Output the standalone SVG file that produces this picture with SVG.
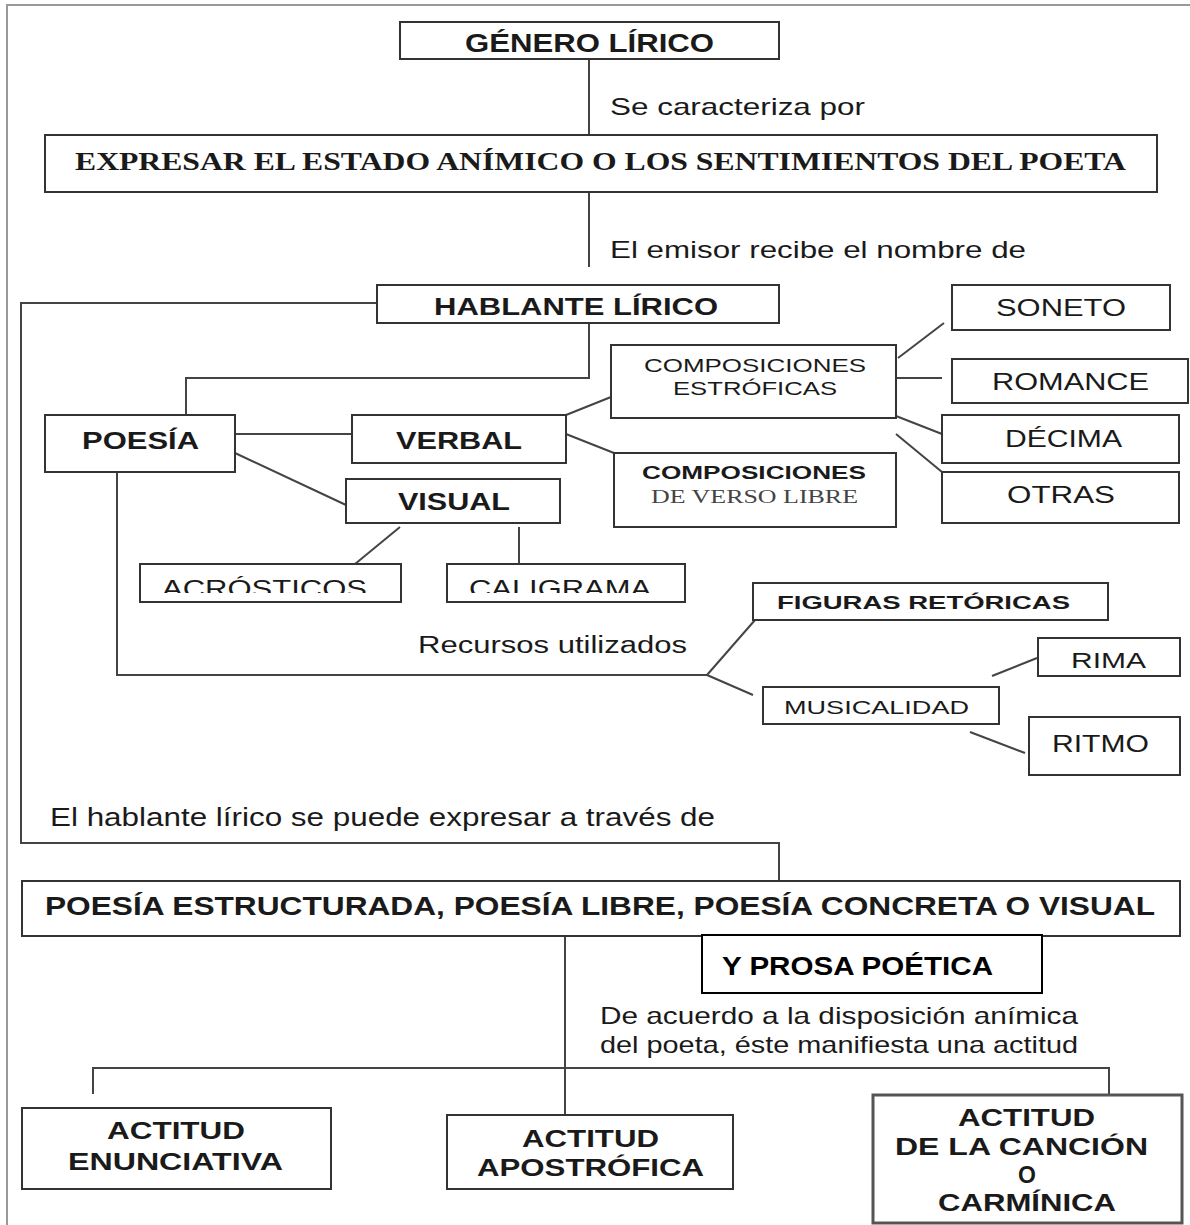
<svg xmlns="http://www.w3.org/2000/svg" width="1190" height="1225" viewBox="0 0 1190 1225">
<style>
.box{fill:#fff;stroke:#333;stroke-width:2}
.ln{fill:none;stroke:#444;stroke-width:2}
.frame{fill:none;stroke:#999;stroke-width:2}
.t{font-family:"Liberation Sans",Arial,sans-serif;fill:#1a1a1a}
.b{font-weight:bold}
.s{font-family:"Liberation Serif","Times New Roman",serif;fill:#1a1a1a}
</style>
<defs>
<clipPath id="cut"><rect x="0" y="540" width="1190" height="53"/></clipPath>
</defs>
<rect width="1190" height="1225" fill="#fff"/>
<path class="frame" d="M7,1225 V5 H1190"/>

<g id="connectors">
<line class="ln" x1="589" y1="60" x2="589" y2="135"/>
<line class="ln" x1="589" y1="192" x2="589" y2="267"/>
<polyline class="ln" points="377,303 21,303 21,843 779,843 779,881"/>
<polyline class="ln" points="589,323 589,378 186,378 186,415"/>
<line class="ln" x1="235" y1="434" x2="352" y2="434"/>
<line class="ln" x1="235" y1="453" x2="346" y2="505"/>
<line class="ln" x1="566" y1="415" x2="611" y2="397"/>
<line class="ln" x1="566" y1="434" x2="614" y2="453"/>
<line class="ln" x1="898" y1="358" x2="944" y2="323"/>
<line class="ln" x1="896" y1="378" x2="942" y2="378"/>
<line class="ln" x1="896" y1="416" x2="942" y2="434"/>
<line class="ln" x1="896" y1="434" x2="942" y2="472"/>
<line class="ln" x1="400" y1="527" x2="355" y2="564"/>
<line class="ln" x1="519" y1="527" x2="519" y2="564"/>
<polyline class="ln" points="117,472 117,675 707,675"/>
<line class="ln" x1="707" y1="675" x2="755" y2="620"/>
<line class="ln" x1="707" y1="675" x2="753" y2="695"/>
<line class="ln" x1="992" y1="676" x2="1037" y2="658"/>
<line class="ln" x1="970" y1="732" x2="1025" y2="753"/>
<line class="ln" x1="565" y1="936" x2="565" y2="1115"/>
<polyline class="ln" points="93,1094 93,1068 1109,1068 1109,1095"/>
</g>

<g id="labels">
<text class="t" x="610" y="115" font-size="24" textLength="255" lengthAdjust="spacingAndGlyphs">Se caracteriza por</text>
<text class="t" x="610" y="258" font-size="24" textLength="416" lengthAdjust="spacingAndGlyphs">El emisor recibe el nombre de</text>
<text class="t" x="418" y="653" font-size="23" textLength="269" lengthAdjust="spacingAndGlyphs">Recursos utilizados</text>
<text class="t" x="50" y="826" font-size="25" textLength="665" lengthAdjust="spacingAndGlyphs">El hablante lírico se puede expresar a través de</text>
<text class="t" x="600" y="1024" font-size="24" textLength="478" lengthAdjust="spacingAndGlyphs">De acuerdo a la disposición anímica</text>
<text class="t" x="600" y="1053" font-size="24" textLength="478" lengthAdjust="spacingAndGlyphs">del poeta, éste manifiesta una actitud</text>
</g>

<g id="genero">
<rect class="box" x="400" y="22" width="379" height="37"/>
<text class="t b" x="465" y="52" font-size="25" textLength="249" lengthAdjust="spacingAndGlyphs">GÉNERO LÍRICO</text>
</g>
<g id="expresar">
<rect class="box" x="45" y="135" width="1112" height="57"/>
<text class="s b" x="75" y="170" font-size="25" textLength="1051" lengthAdjust="spacingAndGlyphs">EXPRESAR EL ESTADO ANÍMICO O LOS SENTIMIENTOS DEL POETA</text>
</g>
<g id="hablante">
<rect class="box" x="377" y="285" width="402" height="38"/>
<text class="t b" x="434" y="315" font-size="24" textLength="284" lengthAdjust="spacingAndGlyphs">HABLANTE LÍRICO</text>
</g>
<g id="poesia">
<rect class="box" x="45" y="415" width="190" height="57"/>
<text class="t b" x="82" y="449" font-size="24" textLength="117" lengthAdjust="spacingAndGlyphs">POESÍA</text>
</g>
<g id="verbal">
<rect class="box" x="352" y="415" width="214" height="48"/>
<text class="t b" x="396" y="449" font-size="24" textLength="126" lengthAdjust="spacingAndGlyphs">VERBAL</text>
</g>
<g id="visual">
<rect class="box" x="346" y="479" width="214" height="44"/>
<text class="t b" x="398" y="510" font-size="24" textLength="112" lengthAdjust="spacingAndGlyphs">VISUAL</text>
</g>
<g id="comp-estroficas">
<rect class="box" x="611" y="345" width="285" height="73"/>
<text class="t" x="644" y="372" font-size="19" textLength="222" lengthAdjust="spacingAndGlyphs">COMPOSICIONES</text>
<text class="t" x="673" y="395" font-size="19" textLength="164" lengthAdjust="spacingAndGlyphs">ESTRÓFICAS</text>
</g>
<g id="comp-libre">
<rect class="box" x="614" y="453" width="282" height="74"/>
<text class="t b" x="642" y="479" font-size="19" textLength="224" lengthAdjust="spacingAndGlyphs">COMPOSICIONES</text>
<text class="s" x="651" y="503" font-size="19" style="fill:#444" textLength="207" lengthAdjust="spacingAndGlyphs">DE VERSO LIBRE</text>
</g>
<g id="soneto">
<rect class="box" x="952" y="285" width="218" height="45"/>
<text class="t" x="996" y="316" font-size="24" textLength="130" lengthAdjust="spacingAndGlyphs">SONETO</text>
</g>
<g id="romance">
<rect class="box" x="952" y="359" width="236" height="44"/>
<text class="t" x="992" y="390" font-size="24" textLength="157" lengthAdjust="spacingAndGlyphs">ROMANCE</text>
</g>
<g id="decima">
<rect class="box" x="942" y="415" width="237" height="48"/>
<text class="t" x="1005" y="447" font-size="24" textLength="117" lengthAdjust="spacingAndGlyphs">DÉCIMA</text>
</g>
<g id="otras">
<rect class="box" x="942" y="472" width="237" height="51"/>
<text class="t" x="1007" y="503" font-size="24" textLength="108" lengthAdjust="spacingAndGlyphs">OTRAS</text>
</g>
<g id="acrosticos">
<rect class="box" x="140" y="564" width="261" height="38"/>
<text class="t" x="162" y="597" font-size="24" clip-path="url(#cut)" textLength="205" lengthAdjust="spacingAndGlyphs">ACRÓSTICOS</text>
</g>
<g id="caligrama">
<rect class="box" x="447" y="564" width="238" height="38"/>
<text class="t" x="469" y="597" font-size="24" clip-path="url(#cut)" textLength="182" lengthAdjust="spacingAndGlyphs">CALIGRAMA</text>
</g>
<g id="figuras">
<rect class="box" x="753" y="583" width="355" height="37"/>
<text class="t b" x="777" y="609" font-size="19" textLength="293" lengthAdjust="spacingAndGlyphs">FIGURAS RETÓRICAS</text>
</g>
<g id="musicalidad">
<rect class="box" x="763" y="687" width="236" height="37"/>
<text class="t" x="784" y="714" font-size="19" textLength="185" lengthAdjust="spacingAndGlyphs">MUSICALIDAD</text>
</g>
<g id="rima">
<rect class="box" x="1038" y="638" width="142" height="38"/>
<text class="t" x="1071" y="668" font-size="22" textLength="75" lengthAdjust="spacingAndGlyphs">RIMA</text>
</g>
<g id="ritmo">
<rect class="box" x="1029" y="717" width="151" height="58"/>
<text class="t" x="1052" y="752" font-size="23" textLength="97" lengthAdjust="spacingAndGlyphs">RITMO</text>
</g>
<g id="poesia-estructurada">
<rect class="box" x="22" y="881" width="1158" height="55"/>
<text class="t b" x="45" y="915" font-size="26" textLength="1110" lengthAdjust="spacingAndGlyphs">POESÍA ESTRUCTURADA, POESÍA LIBRE, POESÍA CONCRETA O VISUAL</text>
</g>
<g id="prosa">
<rect x="702" y="935" width="340" height="58" fill="#fff" stroke="#000" stroke-width="2"/>
<text class="t b" x="722" y="975" font-size="26" style="fill:#000" textLength="271" lengthAdjust="spacingAndGlyphs">Y PROSA POÉTICA</text>
</g>
<g id="enunciativa">
<rect class="box" x="22" y="1108" width="309" height="81"/>
<text class="t b" x="107" y="1139" font-size="23" textLength="138" lengthAdjust="spacingAndGlyphs">ACTITUD</text>
<text class="t b" x="68" y="1170" font-size="23" textLength="215" lengthAdjust="spacingAndGlyphs">ENUNCIATIVA</text>
</g>
<g id="apostrofica">
<rect class="box" x="447" y="1115" width="286" height="74"/>
<text class="t b" x="522" y="1147" font-size="23" textLength="137" lengthAdjust="spacingAndGlyphs">ACTITUD</text>
<text class="t b" x="477" y="1176" font-size="23" textLength="227" lengthAdjust="spacingAndGlyphs">APOSTRÓFICA</text>
</g>
<g id="cancion">
<rect x="873" y="1095" width="309" height="128" fill="#fff" stroke="#555" stroke-width="3"/>
<text class="t b" x="958" y="1126" font-size="23" textLength="137" lengthAdjust="spacingAndGlyphs">ACTITUD</text>
<text class="t b" x="895" y="1155" font-size="23" textLength="253" lengthAdjust="spacingAndGlyphs">DE LA CANCIÓN</text>
<text class="t b" x="1027" y="1183" font-size="23" text-anchor="middle">O</text>
<text class="t b" x="938" y="1211" font-size="23" textLength="178" lengthAdjust="spacingAndGlyphs">CARMÍNICA</text>
</g>
</svg>
